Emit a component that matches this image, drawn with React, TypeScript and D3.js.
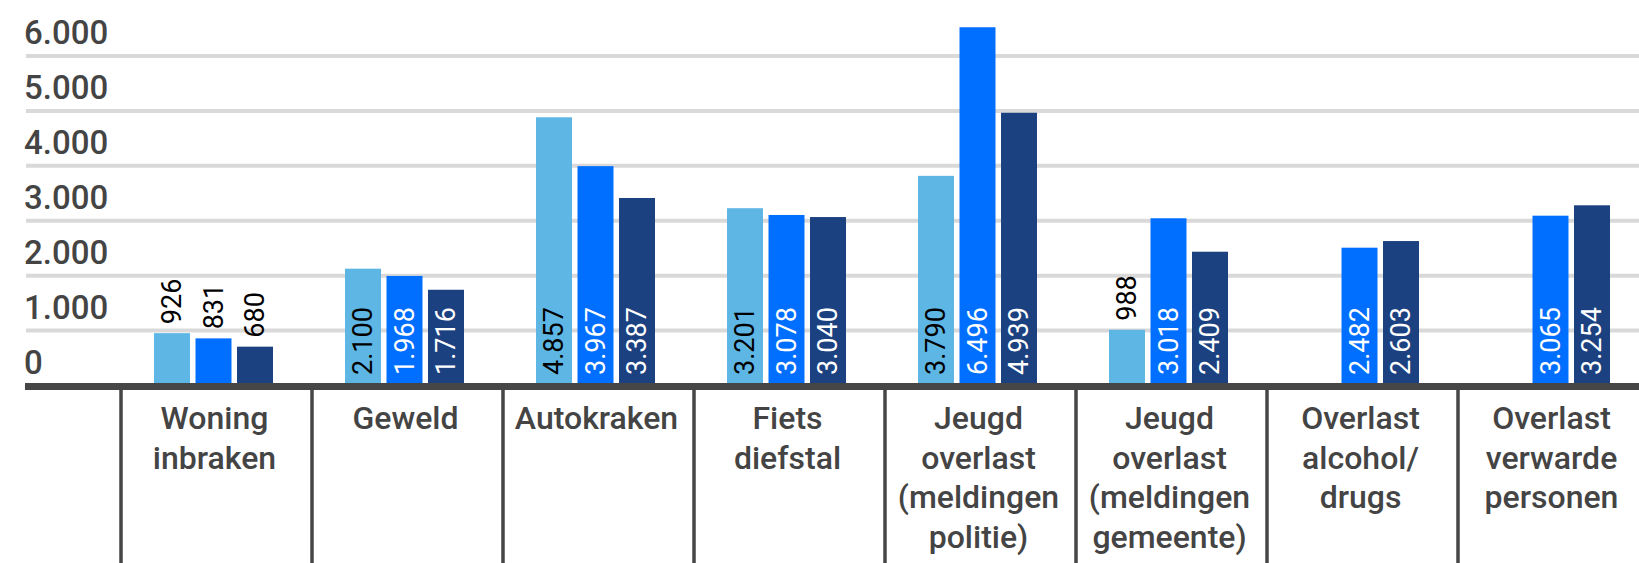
import React, { useEffect, useRef } from "react";
import * as d3 from "d3";

// categories (label lines) and three yearly series
const categories = [
  "Woning inbraken",
  "Geweld",
  "Autokraken",
  "Fiets diefstal",
  "Jeugd overlast (meldingen politie)",
  "Jeugd overlast (meldingen gemeente)",
  "Overlast alcohol/drugs",
  "Overlast verwarde personen",
];
const categoryLines = [
  ["Woning", "inbraken"],
  ["Geweld"],
  ["Autokraken"],
  ["Fiets", "diefstal"],
  ["Jeugd", "overlast", "(meldingen", "politie)"],
  ["Jeugd", "overlast", "(meldingen", "gemeente)"],
  ["Overlast", "alcohol/", "drugs"],
  ["Overlast", "verwarde", "personen"],
];
const seriesA = [926, 2100, 4857, 3201, 3790, 988, null, null];
const seriesB = [831, 1968, 3967, 3078, 6496, 3018, 2482, 3065];
const seriesC = [680, 1716, 3387, 3040, 4939, 2409, 2603, 3254];
const yTicks = [0, 1000, 2000, 3000, 4000, 5000, 6000];

const seriesKeys = ["a", "b", "c"];
const seriesColors = ["#5eb6e4", "#006eff", "#1c4180"];
const insideText = ["#000000", "#ffffff", "#ffffff"];

const W = 1639;
const H = 563;

const fmt = (v: number) => d3.format(",")(v).replace(/,/g, ".");

const App = () => {
  const ref = useRef<SVGSVGElement>(null);

  useEffect(() => {
    const svg = d3.select(ref.current);
    svg.selectAll("*").remove();

    const font = "Roboto, 'Noto Sans', sans-serif";
    const x = d3.scaleBand().domain(categories).range([121, 121 + 191 * 8]).padding(0);
    const xs = d3.scaleBand().domain(seriesKeys).range([33, 152]).paddingInner(0.133).paddingOuter(0);
    const y = d3.scaleLinear().domain([0, 6000]).range([385.5, 56]);

    // gridlines
    svg.append("g")
      .selectAll("line")
      .data(yTicks.filter(t => t > 0))
      .enter().append("line")
      .attr("x1", 26).attr("x2", W)
      .attr("y1", d => y(d)).attr("y2", d => y(d))
      .attr("stroke", "#d9d9d9")
      .attr("stroke-width", 4);

    // y tick labels sit above their line
    svg.append("g")
      .selectAll("text")
      .data(yTicks)
      .enter().append("text")
      .attr("x", 24)
      .attr("y", d => y(d) - 12)
      .text(d => fmt(d))
      .style("font-family", font)
      .style("font-size", "33px")
      .style("font-weight", 500)
      .attr("fill", "#444444");

    const series = [seriesA, seriesB, seriesC];
    const bars: { cat: string; k: number; v: number }[] = [];
    categories.forEach((c, i) => {
      series.forEach((s, k) => {
        const v = s[i];
        if (v != null) bars.push({ cat: c, k, v });
      });
    });

    const bx = (d: { cat: string; k: number }) => (x(d.cat) as number) + (xs(seriesKeys[d.k]) as number);

    svg.append("g")
      .selectAll("rect")
      .data(bars)
      .enter().append("rect")
      .attr("x", d => bx(d))
      .attr("width", xs.bandwidth())
      .attr("y", d => y(d.v) - 1.5)
      .attr("height", d => y(0) - y(d.v) + 1.5)
      .attr("fill", d => seriesColors[d.k]);

    // value labels, rotated; put above bar when they don't fit
    const labels = svg.append("g")
      .selectAll("text")
      .data(bars)
      .enter().append("text")
      .text(d => fmt(d.v))
      .style("font-family", font)
      .style("font-size", "27px")
      .attr("text-anchor", "start")
      .attr("dominant-baseline", "central");

    labels.each(function (d) {
      const el = this as SVGTextElement;
      const len = el.getComputedTextLength();
      const barH = 383 - y(d.v);
      const inside = len + 18 <= barH;
      const cx = bx(d) + xs.bandwidth() / 2;
      const start = inside ? 375 : y(d.v) - 10.5;
      d3.select(el)
        .attr("transform", `translate(${cx},${start}) rotate(-90)`)
        .attr("fill", inside ? insideText[d.k] : "#000000");
    });

    // baseline axis
    svg.append("line")
      .attr("x1", 25).attr("x2", W)
      .attr("y1", 386.5).attr("y2", 386.5)
      .attr("stroke", "#464646")
      .attr("stroke-width", 7);

    // category separators
    svg.append("g")
      .selectAll("line")
      .data(categories)
      .enter().append("line")
      .attr("x1", d => x(d) as number).attr("x2", d => x(d) as number)
      .attr("y1", 386).attr("y2", H)
      .attr("stroke", "#464646")
      .attr("stroke-width", 3.5);

    // category labels
    const cl = svg.append("g")
      .selectAll("text")
      .data(categories)
      .enter().append("text")
      .attr("text-anchor", "middle")
      .style("font-family", font)
      .style("font-size", "32px")
      .style("font-weight", 500)
      .attr("fill", "#444444");

    cl.each(function (d, i) {
      const cx = (x(d) as number) + x.bandwidth() / 2 - 2;
      d3.select(this)
        .selectAll("tspan")
        .data(categoryLines[i])
        .enter().append("tspan")
        .attr("x", cx)
        .attr("y", (_, j) => 429 + j * 39.5)
        .text(t => t);
    });
  }, []);

  return (
    <svg
      ref={ref}
      width={W}
      height={H}
      style={{ position: "absolute", left: 0, top: 0, background: "#ffffff" }}
    />
  );
};

export default App;
